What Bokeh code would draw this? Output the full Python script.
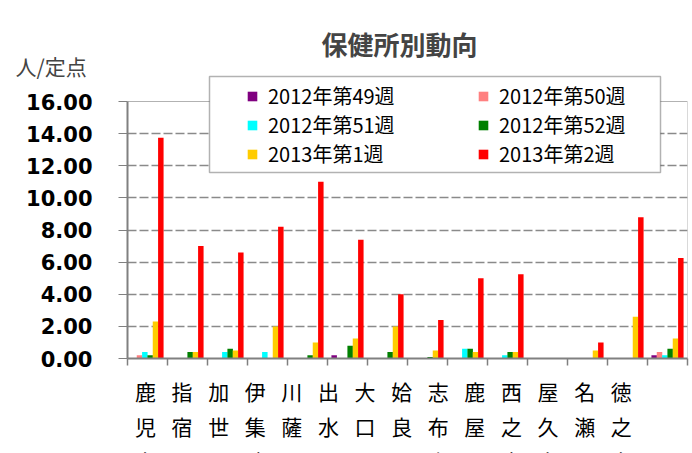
from bokeh.plotting import figure
from bokeh.models import (ColumnDataSource, Range1d, LinearAxis, FixedTicker, Title,
                          NumeralTickFormatter, Legend, LegendItem, BoxAnnotation)
from bokeh.transform import dodge
from bokeh.embed import file_html
from bokeh.resources import INLINE

# ---- data ----
categories = ["鹿児島", "指宿", "加世田", "伊集院", "川薩", "出水", "大口",
              "姶良", "志布志", "鹿屋", "西之表", "屋久島", "名瀬", "徳之島"]
series_names = ["2012年第49週", "2012年第50週", "2012年第51週",
                "2012年第52週", "2013年第1週", "2013年第2週"]
w2012_49 = [0, 0, 0, 0, 0, 0.2, 0, 0, 0, 0, 0, 0, 0, 0.2]
w2012_50 = [0.2, 0, 0, 0, 0, 0, 0, 0, 0, 0, 0, 0, 0, 0.4]
w2012_51 = [0.4, 0, 0.4, 0.4, 0, 0, 0, 0, 0.6, 0.2, 0, 0, 0, 0.2]
w2012_52 = [0.2, 0.4, 0.6, 0, 0.2, 0.8, 0.4, 0.1, 0.6, 0.4, 0, 0, 0, 0.6]
w2013_01 = [2.3, 0.4, 0.5, 2.0, 1.0, 1.25, 2.0, 0.5, 0.4, 0.4, 0, 0.5, 2.6, 1.25]
w2013_02 = [13.75, 7.0, 6.6, 8.2, 11.0, 7.4, 4.0, 2.4, 5.0, 5.25, 0, 1.0, 8.8, 6.25]
y_ticks = [0, 2, 4, 6, 8, 10, 12, 14, 16]
y_max = 16
title_text = "保健所別動向"
y_unit = "人/定点"

colors = ["#800080", "#FF8080", "#00FFFF", "#008000", "#FFCC00", "#FF0000"]
series = [w2012_49, w2012_50, w2012_51, w2012_52, w2013_01, w2013_02]
keys = ["s49", "s50", "s51", "s52", "s01", "s02"]

n = len(categories)
data = {"x": [i + 0.5 for i in range(n)], "cat": categories}
for k, v in zip(keys, series):
    data[k] = v
src = ColumnDataSource(data)

CJK = "Noto Sans CJK JP"

# frame: 560 x 284 px; 16 units occupy the lower 257 px
frame_h = 284
px_per_unit = 257 / y_max
p = figure(frame_width=560, frame_height=frame_h,
           x_range=Range1d(0, n), y_range=Range1d(0, frame_h / px_per_unit),
           output_backend="svg", toolbar_location=None,
           min_border_left=127, min_border_right=5, min_border_top=74,
           min_border_bottom=0)
p.background_fill_color = "white"
p.border_fill_color = "white"
p.outline_line_color = None

# plot-area border (top/right black)
p.add_layout(BoxAnnotation(left=0, right=n, bottom=0, top=y_max, fill_alpha=0,
                           line_color="black", line_width=1, level="underlay"))

# grid
p.xgrid.visible = False
p.ygrid.ticker = FixedTicker(ticks=y_ticks[1:-1])
p.ygrid.grid_line_color = "#8a8a8a"
p.ygrid.grid_line_width = 1.5
p.ygrid.grid_line_dash = "9 3"

# bars
pitch = 0.1333
renderers = []
for i, (k, col) in enumerate(zip(keys, colors)):
    r = p.vbar(x=dodge("x", (i - 2.5) * pitch, range=p.x_range), top=k,
               width=pitch + 0.004, source=src, fill_color=col, line_color=None)
    renderers.append(r)

# y axis
ya = p.yaxis[0]
ya.bounds = (0, y_max)
ya.ticker = FixedTicker(ticks=y_ticks)
ya.formatter = NumeralTickFormatter(format="0.00")
ya.major_label_text_font = "DejaVu Sans"
ya.major_label_text_font_size = "21px"
ya.major_label_text_font_style = "bold"
ya.major_label_text_color = "black"
ya.major_tick_out = 9
ya.major_tick_in = 0
ya.minor_tick_line_color = None
ya.axis_line_color = "#808080"
ya.axis_line_width = 2
ya.major_tick_line_color = "#808080"
ya.major_label_standoff = 26

# x tick axis (category boundaries)
xa = p.xaxis[0]
xa.ticker = FixedTicker(ticks=list(range(n + 1)))
xa.major_label_overrides = {i: "" for i in range(n + 1)}
xa.major_label_text_font_size = "1px"
xa.major_label_standoff = 0
xa.major_tick_out = 7
xa.major_tick_in = 0
xa.minor_tick_line_color = None
xa.axis_line_color = "#808080"
xa.axis_line_width = 2
xa.major_tick_line_color = "#808080"
xa.major_tick_line_width = 1.5

# category label axis
p.extra_x_ranges = {"lab": Range1d(-0.49, 14.81)}
la = LinearAxis(x_range_name="lab", ticker=FixedTicker(ticks=list(range(n))),
                major_label_overrides={i: "\n".join(c) for i, c in enumerate(categories)})
la.axis_line_color = None
la.major_tick_line_color = None
la.minor_tick_line_color = None
la.major_tick_out = 0
la.major_tick_in = 0
la.major_label_text_font = CJK
la.major_label_text_font_size = "21px"
la.major_label_text_line_height = 1.17
la.major_label_text_color = "black"
la.major_label_standoff = 10
p.add_layout(la, "below")

# titles
p.title.text = title_text
p.title.text_font = CJK
p.title.text_font_size = "26px"
p.title.text_font_style = "bold"
p.title.align = "left"
p.title.offset = 194
p.title.standoff = -14

unit_title = Title(text=y_unit, text_font=CJK, text_font_size="21px",
                   text_font_style="normal", align="left", offset=-112, standoff=-12)
p.add_layout(unit_title, "above")

# legend frame
p.add_layout(BoxAnnotation(left=82, right=533, top=282, bottom=186,
                           left_units="screen", right_units="screen",
                           top_units="screen", bottom_units="screen",
                           fill_color="white", fill_alpha=1,
                           line_color="black", line_width=1.5, level="annotation"))

for idxs, vx in (((0, 2, 4), 119), ((1, 3, 5), 350)):
    lg = Legend(items=[LegendItem(label=series_names[i], renderers=[renderers[i]]) for i in idxs],
                location=(vx, 190))
    lg.padding = 0
    lg.margin = 0
    lg.spacing = 0
    lg.glyph_width = 12
    lg.glyph_height = 12
    lg.label_height = 20
    lg.label_standoff = 10
    lg.border_line_color = None
    lg.background_fill_alpha = 0
    lg.label_text_font = CJK
    lg.label_text_font_size = "20px"
    lg.label_text_color = "black"
    p.add_layout(lg, "center")

open("out.html", "w").write(file_html(p, INLINE))
